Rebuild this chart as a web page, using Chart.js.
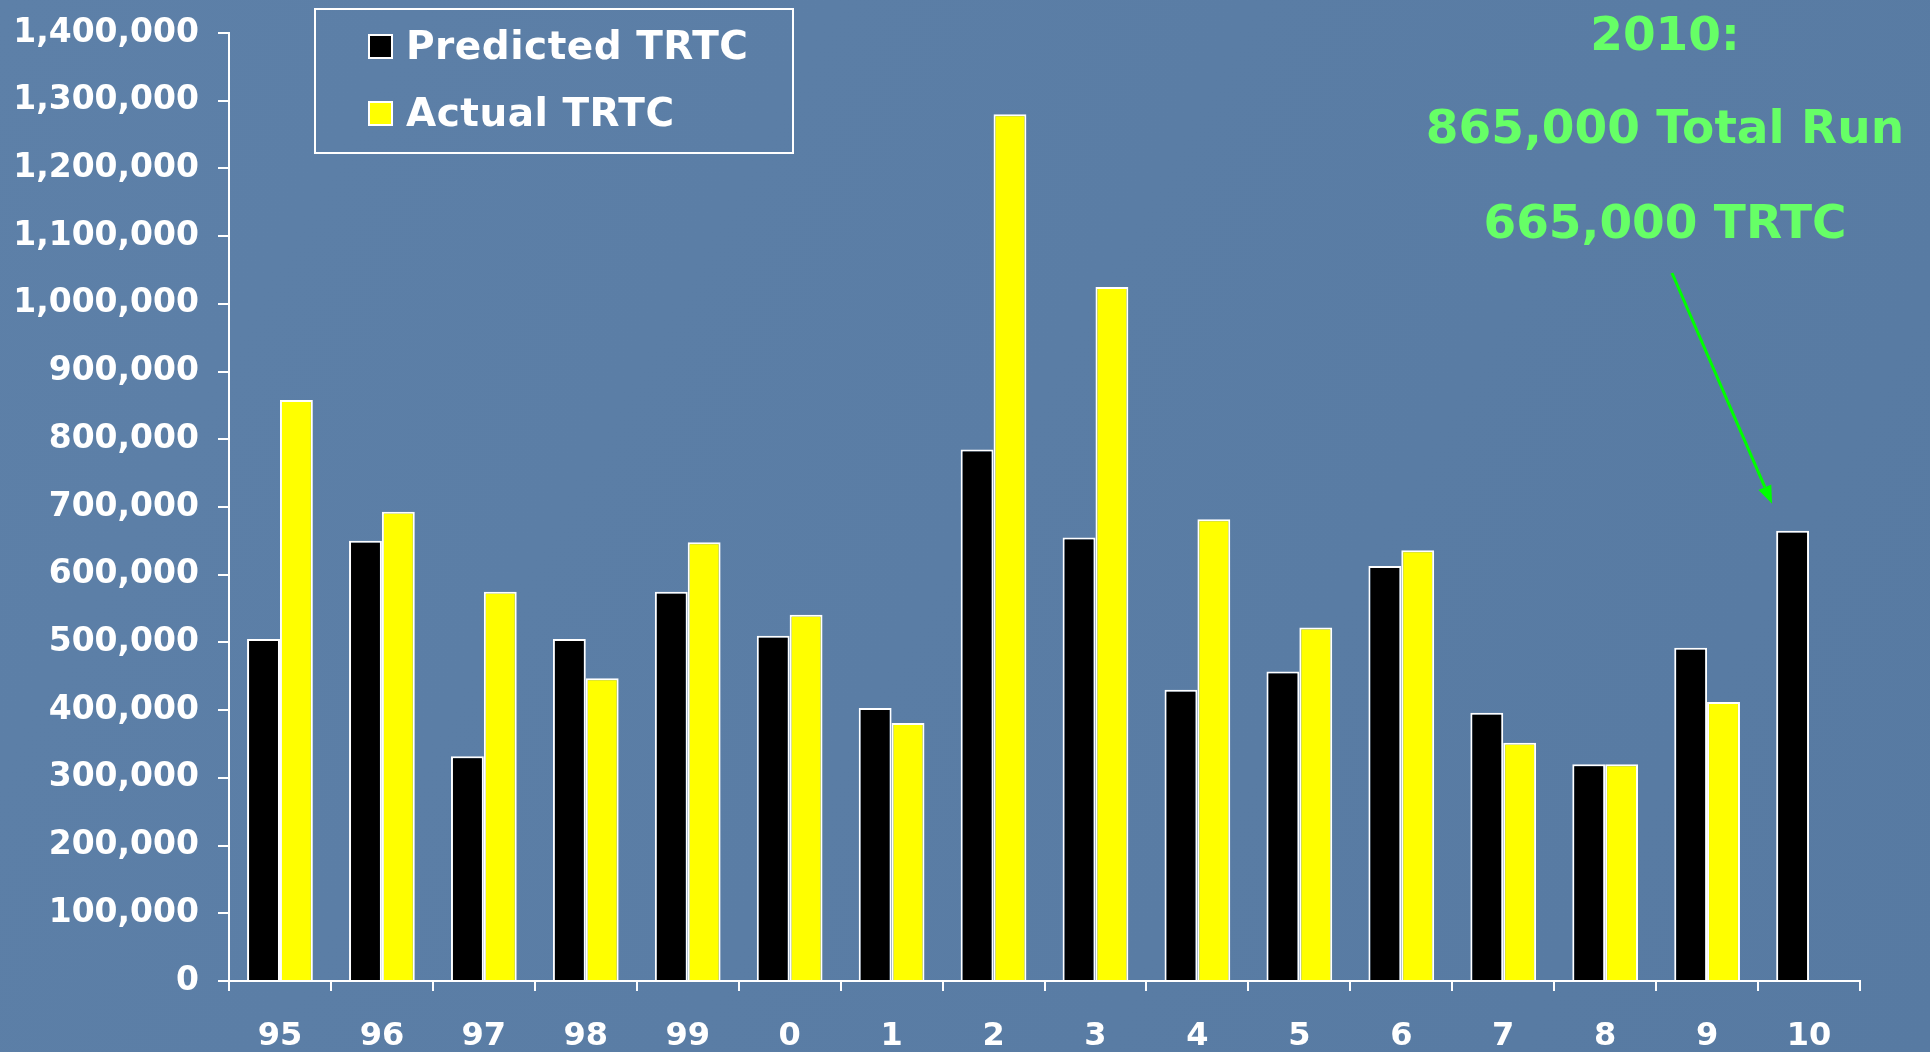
<!DOCTYPE html>
<html>
<head>
<meta charset="utf-8">
<script src="https://cdn.jsdelivr.net/npm/chart.js@4.4.1/dist/chart.umd.min.js"></script>
<style>
  html, body { margin: 0; padding: 0; background: #5a7ba3; overflow: hidden; }
  #wrap { width: 1930px; height: 1052px; }
</style>
</head>
<body>
<div id="wrap"><canvas id="trtcChart" width="1930" height="1052"></canvas></div>
<script>
const years = ['95', '96', '97', '98', '99', '0', '1', '2', '3', '4', '5', '6', '7', '8', '9', '10'];
const predictedTRTC = [505000, 650000, 332000, 505000, 575000, 510000, 403000, 785000, 655000, 430000, 457000, 613000, 396000, 320000, 492000, 665000];
const actualTRTC = [858000, 693000, 575000, 447000, 648000, 541000, 381000, 1280000, 1025000, 682000, 522000, 636000, 352000, 320000, 412000, null];
const yMax = 1400000;
const yStep = 100000;
const noteLines = ['2010:', '865,000 Total Run', '665,000 TRTC'];

const FONT = 'DejaVu Sans';
const WHITE = '#ffffff';
const NOTE_GREEN = '#66ff66';
const ARROW_GREEN = '#00ff00';

const backgroundPlugin = {
  id: 'slideBackground',
  beforeDraw(chart) {
    const { ctx, width, height } = chart;
    ctx.save();
    const grad = ctx.createLinearGradient(0, 0, width, height);
    grad.addColorStop(0, '#5d80a8');
    grad.addColorStop(1, '#577aa2');
    ctx.fillStyle = grad;
    ctx.fillRect(0, 0, width, height);
    ctx.restore();
  },
};

// boxed legend in the upper left of the plot
const legendBoxPlugin = {
  id: 'legendBox',
  afterDraw(chart) {
    const { ctx } = chart;
    ctx.save();
    ctx.strokeStyle = WHITE;
    ctx.lineWidth = 2;
    ctx.strokeRect(315, 9, 478, 144);

    const rows = [59, 126];
    chart.data.datasets.forEach((ds, i) => {
      const base = rows[i];
      ctx.fillStyle = ds.backgroundColor;
      ctx.fillRect(369, base - 24, 23, 23);
      ctx.strokeStyle = WHITE;
      ctx.lineWidth = 2;
      ctx.strokeRect(369, base - 24, 23, 23);

      ctx.fillStyle = WHITE;
      ctx.font = `bold 39px "${FONT}"`;
      ctx.letterSpacing = '0.5px';
      ctx.textAlign = 'left';
      ctx.textBaseline = 'alphabetic';
      ctx.fillText(ds.label, 406, base);
    });
    ctx.restore();
  },
};

// green note with an arrow to the 2010 bar
const notePlugin = {
  id: 'note2010',
  afterDraw(chart) {
    const { ctx } = chart;
    const xs = chart.scales.x;
    const ys = chart.scales.y;
    const last = years.length - 1;
    const tipX = xs.getPixelForValue(last) - 37;
    const tipY = ys.getPixelForValue(predictedTRTC[last]) - 27;
    const startX = 1672;
    const startY = 273;

    ctx.save();
    ctx.fillStyle = NOTE_GREEN;
    ctx.font = `bold 47px "${FONT}"`;
    ctx.textAlign = 'center';
    ctx.textBaseline = 'alphabetic';
    const baselines = [50, 143, 238];
    noteLines.forEach((line, i) => ctx.fillText(line, 1665, baselines[i]));

    const angle = Math.atan2(tipY - startY, tipX - startX);
    const headLen = 18;
    const headHalf = 7;
    const baseX = tipX - headLen * Math.cos(angle);
    const baseY = tipY - headLen * Math.sin(angle);

    ctx.strokeStyle = ARROW_GREEN;
    ctx.lineWidth = 3;
    ctx.beginPath();
    ctx.moveTo(startX, startY);
    ctx.lineTo(baseX, baseY);
    ctx.stroke();

    ctx.fillStyle = ARROW_GREEN;
    ctx.beginPath();
    ctx.moveTo(tipX, tipY);
    ctx.lineTo(baseX + headHalf * Math.sin(angle), baseY - headHalf * Math.cos(angle));
    ctx.lineTo(baseX - headHalf * Math.sin(angle), baseY + headHalf * Math.cos(angle));
    ctx.closePath();
    ctx.fill();
    ctx.restore();
  },
};

new Chart(document.getElementById('trtcChart').getContext('2d'), {
  type: 'bar',
  data: {
    labels: years,
    datasets: [
      {
        label: 'Predicted TRTC',
        data: predictedTRTC,
        backgroundColor: '#000000',
        borderColor: WHITE,
        borderWidth: 2,
        borderSkipped: 'start',
        barPercentage: 1,
        categoryPercentage: 0.645,
      },
      {
        label: 'Actual TRTC',
        data: actualTRTC,
        backgroundColor: '#ffff00',
        borderColor: WHITE,
        borderWidth: 2,
        borderSkipped: 'start',
        barPercentage: 1,
        categoryPercentage: 0.645,
      },
    ],
  },
  options: {
    responsive: false,
    animation: false,
    devicePixelRatio: 1,
    layout: { padding: { top: 33, right: 70, left: 0, bottom: 0 } },
    plugins: {
      legend: { display: false },
      tooltip: { enabled: false },
    },
    scales: {
      x: {
        grid: {
          offset: true,
          drawOnChartArea: false,
          color: WHITE,
          lineWidth: 2,
          tickLength: 10,
        },
        border: { color: WHITE, width: 2 },
        ticks: {
          color: WHITE,
          font: { family: FONT, weight: 'bold', size: 32 },
          padding: 26,
          maxRotation: 0,
          autoSkip: false,
        },
        afterFit: scale => { scale.height = 71; },
      },
      y: {
        min: 0,
        max: yMax,
        grid: {
          drawOnChartArea: false,
          color: WHITE,
          lineWidth: 2,
          tickLength: 11,
        },
        border: { color: WHITE, width: 2 },
        ticks: {
          stepSize: yStep,
          color: WHITE,
          font: { family: FONT, weight: 'bold', size: 33 },
          padding: 19,
          callback: value => value.toLocaleString('en-US'),
        },
        afterFit: scale => {
          scale.width = 229;
          scale.paddingTop = 0;
        },
      },
    },
  },
  plugins: [backgroundPlugin, legendBoxPlugin, notePlugin],
});
</script>
</body>
</html>
